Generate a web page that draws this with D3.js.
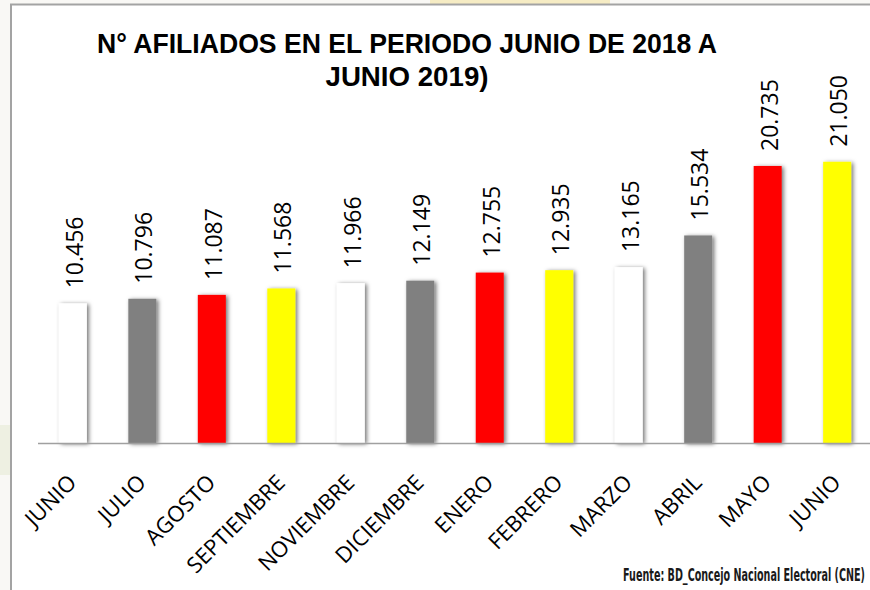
<!DOCTYPE html>
<html>
<head>
<meta charset="utf-8">
<script src="https://cdn.jsdelivr.net/npm/d3@7"></script>
<style>
  body { margin: 0; background: #f9f8f5; }
  svg { display: block; }
</style>
</head>
<body>
<div id="chart"></div>
<script>
// data
var months = ['JUNIO', 'JULIO', 'AGOSTO', 'SEPTIEMBRE', 'NOVIEMBRE', 'DICIEMBRE',
              'ENERO', 'FEBRERO', 'MARZO', 'ABRIL', 'MAYO', 'JUNIO ']
var afiliados = [10456, 10796, 11087, 11568, 11966, 12149, 12755, 12935, 13165, 15534, 20735, 21050]
var barColors = ['#ffffff', '#808080', '#ff0000', '#ffff00']
var titleLines = ['N° AFILIADOS EN EL PERIODO JUNIO DE 2018 A', 'JUNIO 2019)']
var fuente = 'Fuente: BD_Concejo Nacional Electoral (CNE)'

var dataset = months.map(function (m, i) {
    return { mes: m, valor: afiliados[i], color: barColors[i % barColors.length] }
})

var width = 870, height = 590

var svg = d3.select('#chart')
    .append('svg')
    .attr('width', width)
    .attr('height', height)

// shadow for the bars
var defs = svg.append('defs')
var shadow = defs.append('filter')
    .attr('id', 'sombra')
    .attr('x', '-40%').attr('y', '-10%')
    .attr('width', '180%').attr('height', '120%')
shadow.append('feDropShadow')
    .attr('dx', 2).attr('dy', 1)
    .attr('stdDeviation', 2.2)
    .attr('flood-color', '#000')
    .attr('flood-opacity', 0.55)

// page behind the chart + faint watermark traces
svg.append('rect').attr('width', width).attr('height', height).attr('fill', '#f9f8f5')
svg.append('rect').attr('x', 430).attr('y', 0).attr('width', 180).attr('height', 4)
    .attr('fill', '#f6ecc4')
svg.append('rect').attr('x', 0).attr('y', 425).attr('width', 10).attr('height', 50)
    .attr('fill', '#eef0e2')

// chart area with its frame
svg.append('rect')
    .attr('x', 11).attr('y', 4.5)
    .attr('width', width).attr('height', height)
    .attr('fill', '#ffffff')
    .attr('stroke', '#a3a3a3')
    .attr('stroke-width', 2)

var x = d3.scaleBand()
    .domain(months)
    .range([38, 872])
    .paddingInner(0.597)
    .paddingOuter(0.3)

var y = d3.scaleLinear()
    .domain([0, 25000])
    .range([443, 109])

var fmt = d3.formatLocale({ decimal: ',', thousands: '.', grouping: [3], currency: ['', ''] }).format(',')

// bars
svg.selectAll('rect.bar')
    .data(dataset)
    .enter()
    .append('rect')
        .attr('class', 'bar')
        .attr('x', d => x(d.mes))
        .attr('y', d => y(d.valor))
        .attr('width', x.bandwidth())
        .attr('height', d => y(0) - y(d.valor))
        .attr('fill', d => d.color)
        .attr('filter', 'url(#sombra)')

// category axis line
svg.append('line')
    .attr('x1', 38).attr('x2', width)
    .attr('y1', y(0) + 0.5).attr('y2', y(0) + 0.5)
    .attr('stroke', '#a0a0a0')
    .attr('stroke-width', 1.5)

// value labels, vertical
svg.selectAll('text.valor')
    .data(dataset)
    .enter()
    .append('text')
        .attr('class', 'valor')
        .attr('transform', d => 'translate(' + (x(d.mes) + x.bandwidth() / 2 + 10) + ',' + (y(d.valor) - 15) + ') rotate(-90)')
        .attr('text-anchor', 'start')
        .style('font-family', '"Open Sans", sans-serif')
        .style('font-size', '23px')
        .style('fill', '#000')
        .text(d => fmt(d.valor))

// month labels, at 45 degrees
svg.selectAll('text.mes')
    .data(dataset)
    .enter()
    .append('text')
        .attr('class', 'mes')
        .attr('transform', d => 'translate(' + (x(d.mes) + x.bandwidth() / 2 + 5) + ',484) rotate(-45)')
        .attr('text-anchor', 'end')
        .style('font-family', '"Open Sans", sans-serif')
        .style('font-size', '22px')
        .style('fill', '#000')
        .text(d => d.mes.trim())

// title, two lines
svg.selectAll('text.titulo')
    .data(titleLines)
    .enter()
    .append('text')
        .attr('class', 'titulo')
        .attr('x', 407)
        .attr('y', (d, i) => 53 + i * 33)
        .attr('text-anchor', 'middle')
        .attr('textLength', (d, i) => i == 0 ? 620 : 163)
        .attr('lengthAdjust', 'spacingAndGlyphs')
        .style('font-family', '"Liberation Sans", Arial, sans-serif')
        .style('font-weight', 'bold')
        .style('font-size', '28px')
        .style('fill', '#000')
        .text(d => d)

// source note, squeezed to the width it has in the picture
var nota = svg.append('text')
    .attr('text-anchor', 'end')
    .style('font-family', '"DejaVu Sans Condensed", "DejaVu Sans", sans-serif')
    .style('font-weight', 'bold')
    .style('font-size', '17px')
    .style('fill', '#1a1a1a')
    .text(fuente)
var largo = nota.node().getComputedTextLength()
nota.attr('transform', 'translate(865,581) scale(' + (242 / largo) + ',1)')
</script>
</body>
</html>
